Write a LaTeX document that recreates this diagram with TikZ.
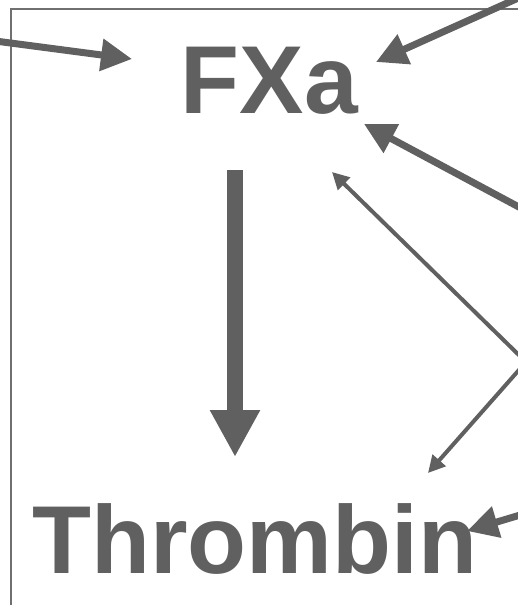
\documentclass[tikz,border=0pt]{standalone}
\usepackage{fontspec}
\setmainfont{Liberation Sans}
\usetikzlibrary{arrows.meta}
\definecolor{ink}{HTML}{606060}
\definecolor{framec}{HTML}{707070}
\begin{document}
\begin{tikzpicture}[x=1pt,y=-1pt,
  lbl/.style={inner sep=0pt, anchor=base west, text=ink, font=\fontsize{96.5}{110}\selectfont\bfseries},
  thickarr/.style={draw=ink, line width=7pt, -{Triangle[length=31pt,width=31pt]}},
  thinarr/.style={draw=ink, line width=4pt, -{Triangle[length=17pt,width=17pt]}},
  bigarr/.style={draw=ink, line width=16pt, -{Triangle[length=47pt,width=47pt]}},
]
\useasboundingbox (0,0) rectangle (518,605);
\clip (0,0) rectangle (518,605);
\draw[framec, line width=2.4pt] (11.2,8.7) rectangle (620,700);
\node[lbl] (fxa) at (180.5,113) {FXa};
\node[lbl] (thr) at (32,573) {Thrombin};
% free ends
\coordinate (s1) at (-20,39);
\coordinate (t1) at (132,59);
\coordinate (s2) at (545,-14);
\coordinate (t2) at (376,62);
\coordinate (s3) at (545,221);
\coordinate (t3) at (364,124);
\coordinate (s45) at (526,362);
\coordinate (t4) at (332,172);
\coordinate (t5) at (428,473);
\coordinate (s6) at (560,503);
\coordinate (t6) at (467,531);
\coordinate (vtop) at (235,170);
\coordinate (vtip) at (235,457);
\draw[thickarr] (s1) -- (t1);
\draw[thickarr] (s2) -- (t2);
\draw[thickarr] (s3) -- (t3);
\draw[thinarr] (s45) -- (t4);
\draw[thinarr] (s45) -- (t5);
\draw[thickarr] (s6) -- (t6);
\draw[bigarr] (vtop) -- (vtip);
\end{tikzpicture}
\end{document}
